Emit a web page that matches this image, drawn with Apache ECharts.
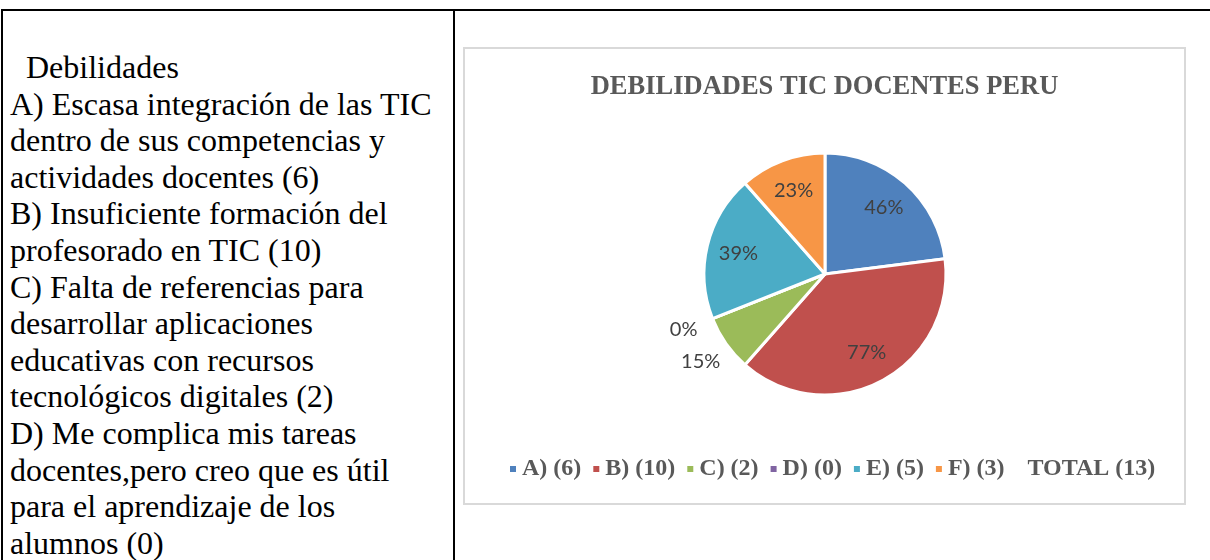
<!DOCTYPE html>
<html>
<head>
<meta charset="utf-8">
<title>Debilidades TIC docentes Peru</title>
<script src="https://cdn.jsdelivr.net/npm/echarts@6/dist/echarts.min.js"></script>
<style>
html, body { margin:0; padding:0; background:#fff; }
body { width:1210px; height:560px; position:relative; overflow:hidden; }
.rule { position:absolute; background:#000; }
#rule-top { left:1px; top:9px; width:1209px; height:2px; }
#rule-left { left:1px; top:9px; width:2px; height:551px; }
#rule-mid { left:453px; top:9px; width:2px; height:551px; }
#notes { position:absolute; left:10px; top:49px; margin:0;
  font:32px/36.6px "Liberation Serif", "Times New Roman", serif; color:#000; white-space:pre; }
#chart { position:absolute; left:463px; top:47px; width:723px; height:458px;
  box-sizing:border-box; border:2px solid #d9d9d9; }
</style>
</head>
<body>
<div class="rule" id="rule-top"></div>
<div class="rule" id="rule-left"></div>
<div class="rule" id="rule-mid"></div>
<pre id="notes">  Debilidades
A) Escasa integración de las TIC
dentro de sus competencias y
actividades docentes (6)
B) Insuficiente formación del
profesorado en TIC (10)
C) Falta de referencias para
desarrollar aplicaciones
educativas con recursos
tecnológicos digitales (2)
D) Me complica mis tareas
docentes,pero creo que es útil
para el aprendizaje de los
alumnos (0)</pre>
<div id="chart"></div>
<script>
var categories = ['A)', 'B)', 'C)', 'D)', 'E)', 'F)'];
var counts = [6, 10, 2, 0, 5, 3];
var percents = [46, 77, 15, 0, 39, 23];
var totalCount = 13;

// labels drawn outside the pie in the original
var outsideCats = ['C)', 'D)'];
var palette = ['#4F81BD', '#C0504D', '#9BBB59', '#8064A2', '#4BACC6', '#F79646'];

function init(){
  var myChart = echarts.init(document.getElementById('chart'));
  var names = categories.map(function(c, i){ return c + ' (' + counts[i] + ')'; });
  var totalName = 'TOTAL (' + totalCount + ')';
  var labelFont = { fontFamily: 'Lato', fontSize: 20, color: '#404040' };

  function pieData(showFn){
    return names.map(function(n, i){
      return { name: n, value: percents[i], label: { show: showFn(categories[i]) } };
    });
  }

  var option = {
    animation: false,
    color: palette,
    title: {
      text: 'DEBILIDADES TIC DOCENTES PERU',
      left: 'center',
      top: 20,
      textStyle: { fontFamily: 'Liberation Serif', fontWeight: 'bold', fontSize: 26.5, color: '#595959' }
    },
    legend: {
      data: names.concat([{ name: totalName, itemStyle: { color: 'transparent' } }]),
      left: 38,
      top: 403,
      icon: 'rect',
      itemWidth: 8,
      itemHeight: 8,
      itemGap: 10,
      selectedMode: false,
      textStyle: { fontFamily: 'Liberation Serif', fontWeight: 'bold', fontSize: 24, color: '#595959' }
    },
    series: [
      {
        type: 'pie',
        name: 'main',
        center: [360, 225],
        radius: 121,
        avoidLabelOverlap: false,
        label: { show: false },
        labelLine: { show: false },
        itemStyle: { borderColor: '#fff', borderWidth: 3 },
        emphasis: { disabled: true },
        data: names.map(function(n, i){ return { name: n, value: percents[i] }; })
      },
      {
        // inside labels
        type: 'pie',
        name: 'inner-labels',
        center: [360, 225],
        radius: [51, 121],
        silent: true,
        avoidLabelOverlap: false,
        itemStyle: { color: 'transparent', borderWidth: 0 },
        label: Object.assign({ position: 'inner', formatter: '{c}%' }, labelFont),
        labelLine: { show: false },
        emphasis: { disabled: true },
        data: pieData(function(c){ return outsideCats.indexOf(c) < 0; })
      },
      {
        // outside labels
        type: 'pie',
        name: 'outer-labels',
        center: [360, 225],
        radius: [138, 160],
        silent: true,
        avoidLabelOverlap: false,
        itemStyle: { color: 'transparent', borderWidth: 0 },
        label: Object.assign({ position: 'inner', formatter: '{c}%' }, labelFont),
        labelLine: { show: false },
        emphasis: { disabled: true },
        data: pieData(function(c){ return outsideCats.indexOf(c) >= 0; })
      },
      {
        type: 'custom',
        name: totalName,
        coordinateSystem: 'none',
        itemStyle: { color: 'transparent' },
        renderItem: function(){ return null; },
        data: []
      }
    ]
  };
  myChart.setOption(option);
}

init();
</script>
</body>
</html>
